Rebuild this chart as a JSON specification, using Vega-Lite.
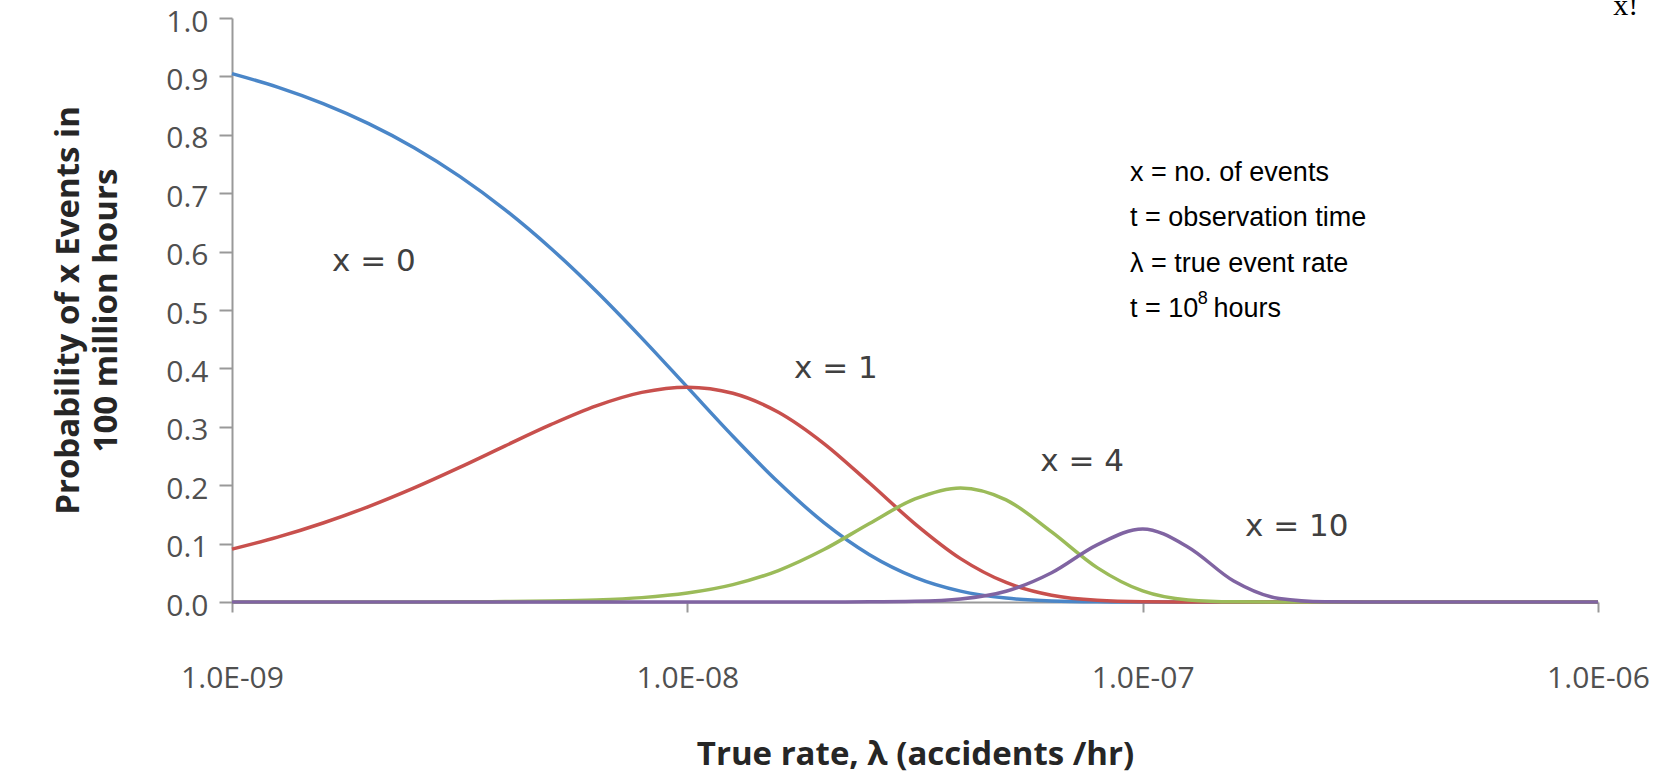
{
  "$schema": "https://vega.github.io/schema/vega-lite/v6.json",
  "width": 1366,
  "height": 584,
  "autosize": {"type": "none"},
  "padding": {"left": 232, "top": 18, "right": 79, "bottom": 172},
  "background": "white",
  "config": {"view": {"stroke": null}, "axis": {"grid": false}},
  "datasets": {
    "curves": [
      {"lam": 1e-9, "p0": 0.9048, "p1": 0.0905, "p4": 0.0000038, "p10": 0},
      {"lam": 1.259e-9, "p0": 0.8817, "p1": 0.111, "p4": 0.0000092, "p10": 0},
      {"lam": 1.585e-9, "p0": 0.8534, "p1": 0.1353, "p4": 0.0000224, "p10": 0},
      {"lam": 1.995e-9, "p0": 0.8191, "p1": 0.1634, "p4": 0.000054, "p10": 0},
      {"lam": 2.512e-9, "p0": 0.7779, "p1": 0.1954, "p4": 0.000129, "p10": 0},
      {"lam": 3.162e-9, "p0": 0.7289, "p1": 0.2305, "p4": 0.000304, "p10": 0},
      {"lam": 3.981e-9, "p0": 0.6716, "p1": 0.2674, "p4": 0.000703, "p10": 0},
      {"lam": 5.012e-9, "p0": 0.6058, "p1": 0.3036, "p4": 0.001593, "p10": 0},
      {"lam": 6.31e-9, "p0": 0.5321, "p1": 0.3358, "p4": 0.003514, "p10": 0},
      {"lam": 7.943e-9, "p0": 0.4519, "p1": 0.3589, "p4": 0.007496, "p10": 0},
      {"lam": 1e-8, "p0": 0.3679, "p1": 0.3679, "p4": 0.01533, "p10": 0.0000001},
      {"lam": 1.259e-8, "p0": 0.2839, "p1": 0.3574, "p4": 0.02971, "p10": 0.0000008},
      {"lam": 1.585e-8, "p0": 0.205, "p1": 0.3249, "p4": 0.0539, "p10": 0.0000056},
      {"lam": 1.995e-8, "p0": 0.136, "p1": 0.2713, "p4": 0.0898, "p10": 0.000037},
      {"lam": 2.512e-8, "p0": 0.0811, "p1": 0.2037, "p4": 0.1345, "p10": 0.000223},
      {"lam": 3.162e-8, "p0": 0.0423, "p1": 0.1339, "p4": 0.1764, "p10": 0.001167},
      {"lam": 3.981e-8, "p0": 0.01867, "p1": 0.0743, "p4": 0.1954, "p10": 0.005145},
      {"lam": 5.012e-8, "p0": 0.00666, "p1": 0.0334, "p4": 0.175, "p10": 0.01834},
      {"lam": 6.31e-8, "p0": 0.00182, "p1": 0.01147, "p4": 0.1201, "p10": 0.0501},
      {"lam": 7.943e-8, "p0": 0.000355, "p1": 0.00282, "p4": 0.0589, "p10": 0.0978},
      {"lam": 1e-7, "p0": 0.0000454, "p1": 0.000454, "p4": 0.01892, "p10": 0.1251},
      {"lam": 1.259e-7, "p0": 0.0000034, "p1": 0.000043, "p4": 0.003565, "p10": 0.0939},
      {"lam": 1.585e-7, "p0": 0, "p1": 0.000002, "p4": 0.000344, "p10": 0.036},
      {"lam": 1.995e-7, "p0": 0, "p1": 0, "p4": 0.0000143, "p10": 0.00597},
      {"lam": 2.512e-7, "p0": 0, "p1": 0, "p4": 0.0000003, "p10": 0.00034},
      {"lam": 3.162e-7, "p0": 0, "p1": 0, "p4": 0, "p10": 0.0000051},
      {"lam": 3.981e-7, "p0": 0, "p1": 0, "p4": 0, "p10": 0},
      {"lam": 5.012e-7, "p0": 0, "p1": 0, "p4": 0, "p10": 0},
      {"lam": 6.31e-7, "p0": 0, "p1": 0, "p4": 0, "p10": 0},
      {"lam": 7.943e-7, "p0": 0, "p1": 0, "p4": 0, "p10": 0},
      {"lam": 1e-6, "p0": 0, "p1": 0, "p4": 0, "p10": 0}
    ],
    "labels": [
      {"lam": 2.05e-9, "p": 0.582, "text": "x = 0"},
      {"lam": 2.12e-8, "p": 0.399, "text": "x = 1"},
      {"lam": 7.36e-8, "p": 0.24, "text": "x = 4"},
      {"lam": 2.18e-7, "p": 0.128, "text": "x = 10"}
    ],
    "notes": [
      {"lam": 9.38e-8, "p": 0.735, "text": "x = no. of events"},
      {"lam": 9.38e-8, "p": 0.658, "text": "t = observation time"},
      {"lam": 9.38e-8, "p": 0.579, "text": "λ = true event rate"},
      {"lam": 9.38e-8, "p": 0.502, "text": "t = 10"},
      {"lam": 1.43e-7, "p": 0.502, "text": "hours"}
    ],
    "sup": [{"lam": 1.322e-7, "p": 0.519, "text": "8"}],
    "corner": [{"lam": 1.08e-6, "p": 1.005, "text": "x!"}]
  },
  "layer": [
    {
      "data": {"name": "curves"},
      "transform": [{"fold": ["p0", "p1", "p4", "p10"], "as": ["series", "p"]}],
      "mark": {"type": "line", "interpolate": "monotone", "strokeWidth": 3.5, "clip": false},
      "encoding": {
        "x": {
          "field": "lam", "type": "quantitative",
          "scale": {"type": "log", "domain": [1e-9, 1e-6], "nice": false},
          "axis": {
            "title": "True rate, λ (accidents /hr)",
            "values": [1e-9, 1e-8, 1e-7, 1e-6],
            "labelExpr": "'1.0E-0' + (-round(log(datum.value)/LN10))",
            "labelFont": "Open Sans", "labelFontSize": 30, "labelColor": "#505050",
            "labelPadding": 51, "labelFlush": false, "labelOverlap": false,
            "tickSize": 10, "tickColor": "#999999", "tickWidth": 2,
            "domainColor": "#999999", "domainWidth": 2,
            "titleFont": "Open Sans", "titleFontWeight": "bold", "titleFontSize": 33, "titleColor": "#262626",
            "titleX": 683, "titleY": 152, "titleAlign": "center", "titleBaseline": "middle"
          }
        },
        "y": {
          "field": "p", "type": "quantitative",
          "scale": {"domain": [0, 1], "nice": false},
          "axis": {
            "title": ["Probability of x Events in", "100 million hours"],
            "values": [0, 0.1, 0.2, 0.3, 0.4, 0.5, 0.6, 0.7, 0.8, 0.9, 1],
            "format": ".1f",
            "labelFont": "Open Sans", "labelFontSize": 30, "labelColor": "#505050",
            "labelPadding": 11, "labelOffset": 4,
            "tickSize": 13, "tickColor": "#999999", "tickWidth": 2,
            "domainColor": "#999999", "domainWidth": 2,
            "titleFont": "Open Sans", "titleFontWeight": "bold", "titleFontSize": 33, "titleColor": "#262626",
            "titleAngle": -90, "titleX": -164, "titleY": 292, "titleAlign": "center",
            "titleBaseline": "middle", "titleLineHeight": 38
          }
        },
        "color": {
          "field": "series", "type": "nominal",
          "scale": {"domain": ["p0", "p1", "p4", "p10"], "range": ["#4A86C8", "#C8504D", "#9BBB59", "#8064A2"]},
          "legend": null
        }
      }
    },
    {
      "data": {"name": "labels"},
      "mark": {"type": "text", "font": "DejaVu Sans", "fontSize": 31, "color": "#404040", "align": "center", "baseline": "middle"},
      "encoding": {
        "x": {"field": "lam", "type": "quantitative"},
        "y": {"field": "p", "type": "quantitative"},
        "text": {"field": "text"}
      }
    },
    {
      "data": {"name": "notes"},
      "mark": {"type": "text", "font": "Liberation Sans", "fontSize": 27, "color": "#000000", "align": "left", "baseline": "middle"},
      "encoding": {
        "x": {"field": "lam", "type": "quantitative"},
        "y": {"field": "p", "type": "quantitative"},
        "text": {"field": "text"}
      }
    },
    {
      "data": {"name": "sup"},
      "mark": {"type": "text", "font": "Liberation Sans", "fontSize": 18, "color": "#000000", "align": "left", "baseline": "middle"},
      "encoding": {
        "x": {"field": "lam", "type": "quantitative"},
        "y": {"field": "p", "type": "quantitative"},
        "text": {"field": "text"}
      }
    },
    {
      "data": {"name": "corner"},
      "mark": {"type": "text", "font": "Liberation Serif", "fontSize": 30, "color": "#000000", "align": "left", "baseline": "alphabetic"},
      "encoding": {
        "x": {"field": "lam", "type": "quantitative"},
        "y": {"field": "p", "type": "quantitative"},
        "text": {"field": "text"}
      }
    }
  ]
}
